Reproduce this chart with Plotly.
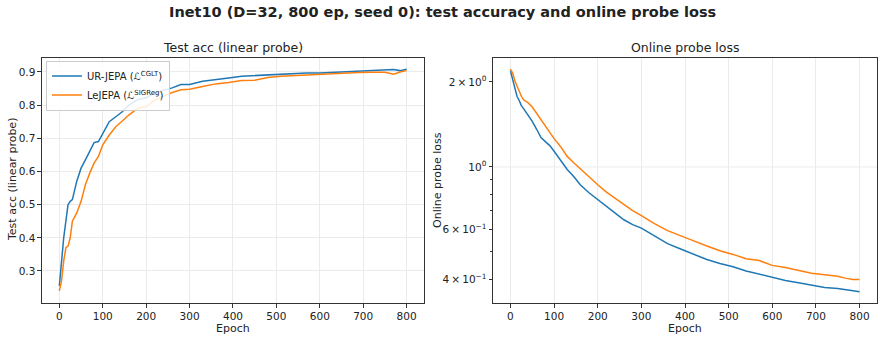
import plotly.graph_objects as go

epochs = [0, 5, 10, 15, 20, 25, 30, 40, 50, 60, 70, 80, 90, 100, 115, 130, 145, 160, 180, 200,
          220, 240, 260, 280, 300, 330, 360, 390, 420, 450, 480, 510, 540, 570, 600, 630, 660,
          690, 720, 750, 770, 785, 800]

acc_ur = [0.255, 0.33, 0.40, 0.45, 0.50, 0.51, 0.515, 0.57, 0.61, 0.635, 0.66, 0.687, 0.69, 0.715,
          0.75, 0.765, 0.78, 0.80, 0.816, 0.822, 0.837, 0.845, 0.852, 0.862, 0.862, 0.872, 0.878,
          0.882, 0.887, 0.889, 0.892, 0.895, 0.895, 0.897, 0.897, 0.899, 0.899, 0.903, 0.905,
          0.905, 0.907, 0.904, 0.908]
acc_le = [0.24, 0.27, 0.33, 0.37, 0.375, 0.40, 0.45, 0.475, 0.51, 0.56, 0.595, 0.625, 0.645, 0.68,
          0.71, 0.735, 0.752, 0.77, 0.79, 0.795, 0.816, 0.828, 0.838, 0.846, 0.848, 0.856, 0.864,
          0.868, 0.874, 0.875, 0.883, 0.887, 0.889, 0.892, 0.893, 0.895, 0.896, 0.898, 0.899,
          0.899, 0.893, 0.900, 0.904]

loss_ur = [2.19, 2.05, 1.88, 1.78, 1.72, 1.65, 1.61, 1.535, 1.45, 1.36, 1.27, 1.23, 1.19, 1.137,
           1.06, 0.98, 0.925, 0.865, 0.81, 0.765, 0.725, 0.686, 0.65, 0.625, 0.607, 0.57, 0.535,
           0.512, 0.49, 0.47, 0.455, 0.443, 0.428, 0.417, 0.405, 0.396, 0.389, 0.381, 0.374,
           0.371, 0.366, 0.364, 0.361]
loss_le = [2.22, 2.15, 2.02, 1.93, 1.85, 1.78, 1.73, 1.69, 1.63, 1.55, 1.46, 1.39, 1.32, 1.26,
           1.18, 1.09, 1.035, 0.985, 0.92, 0.865, 0.815, 0.775, 0.735, 0.70, 0.672, 0.63, 0.595,
           0.572, 0.547, 0.525, 0.505, 0.49, 0.473, 0.466, 0.448, 0.44, 0.43, 0.42, 0.415, 0.41,
           0.403, 0.399, 0.399]

names = ["UR-JEPA (ℒ<sup>CGLT</sup>)", "LeJEPA (ℒ<sup>SIGReg</sup>)"]
colors = ["#1f77b4", "#ff7f0e"]

x_ticks = [0, 100, 200, 300, 400, 500, 600, 700, 800]
acc_ticks = [0.3, 0.4, 0.5, 0.6, 0.7, 0.8, 0.9]
loss_ticks = [0.4, 0.6, 1.0, 2.0]
loss_ticktext = ["4\u2009×\u200910<sup>−1</sup>", "6\u2009×\u200910<sup>−1</sup>",
                 "10<sup>0</sup>", "2\u2009×\u200910<sup>0</sup>"]
loss_minor = [0.5, 0.7, 0.8, 0.9]

FONT = "DejaVu Sans"
fig = go.Figure()
for vals, nm, c in [(acc_ur, names[0], colors[0]), (acc_le, names[1], colors[1])]:
    fig.add_trace(go.Scatter(x=epochs, y=vals, mode="lines", name=nm,
                             line=dict(color=c, width=1.5), xaxis="x", yaxis="y"))
for vals, nm, c in [(loss_ur, names[0], colors[0]), (loss_le, names[1], colors[1])]:
    fig.add_trace(go.Scatter(x=epochs, y=vals, mode="lines", name=nm, showlegend=False,
                             line=dict(color=c, width=1.5), xaxis="x2", yaxis="y2"))

ax_common = dict(showline=True, mirror=True, linecolor="#333333", linewidth=1,
                 ticks="outside", ticklen=3.5, tickcolor="#333333", zeroline=False,
                 tickfont=dict(size=10.5, color="#222222", family=FONT),
                 gridcolor="#ebebeb", gridwidth=1)

D1 = [0.0475, 0.4796]
D2 = [0.5577, 0.9921]
fig.update_layout(
    width=884, height=340,
    margin=dict(l=0, r=0, t=0, b=0),
    plot_bgcolor="white", paper_bgcolor="white",
    font=dict(family=FONT, color="#222222", size=11),
    xaxis=dict(domain=D1, range=[-40, 840], tickvals=x_ticks, anchor="y", **ax_common),
    yaxis=dict(domain=[0.1088, 0.8294], range=[0.2035, 0.942], tickvals=acc_ticks, anchor="x",
               **ax_common),
    xaxis2=dict(domain=D2, range=[-40, 840], tickvals=x_ticks, anchor="y2", **ax_common),
    yaxis2=dict(domain=[0.1088, 0.8294], type="log", range=[-0.482, 0.386],
                tickvals=loss_ticks, ticktext=loss_ticktext, anchor="x2", showgrid=False,
                minor=dict(tickvals=loss_minor, ticks="outside", ticklen=2, tickcolor="#333333",
                           showgrid=False),
                **ax_common),
    legend=dict(x=0.052, y=0.822, xanchor="left", yanchor="top",
                bgcolor="rgba(255,255,255,0.85)", bordercolor="#cccccc", borderwidth=1,
                font=dict(size=10, family=FONT), tracegroupgap=0, itemwidth=30),
    shapes=[dict(type="line", xref="x2 domain", yref="y2", x0=0, x1=1, y0=1, y1=1,
                 line=dict(color="#ebebeb", width=1), layer="below")],
    annotations=[
        dict(text="<b>Inet10 (D=32, 800 ep, seed 0): test accuracy and online probe loss</b>",
             x=0.5, y=1 - 12 / 340, xref="paper", yref="paper", showarrow=False,
             xanchor="center", yanchor="middle", font=dict(size=14.5, family=FONT)),
        dict(text="Test acc (linear probe)", x=sum(D1) / 2, y=1 - 48 / 340,
             xref="paper", yref="paper", showarrow=False, xanchor="center", yanchor="middle",
             font=dict(size=12.5, family=FONT)),
        dict(text="Online probe loss", x=sum(D2) / 2, y=1 - 48 / 340,
             xref="paper", yref="paper", showarrow=False, xanchor="center", yanchor="middle",
             font=dict(size=12.5, family=FONT)),
        dict(text="Epoch", x=sum(D1) / 2, y=1 - 328 / 340, xref="paper", yref="paper",
             showarrow=False, xanchor="center", yanchor="middle", font=dict(size=11)),
        dict(text="Epoch", x=sum(D2) / 2, y=1 - 328 / 340, xref="paper", yref="paper",
             showarrow=False, xanchor="center", yanchor="middle", font=dict(size=11)),
        dict(text="Test acc (linear probe)", x=12 / 884, y=1 - 180 / 340, xref="paper",
             yref="paper", showarrow=False, textangle=-90, xanchor="center", yanchor="middle",
             font=dict(size=11)),
        dict(text="Online probe loss", x=437 / 884, y=1 - 180 / 340, xref="paper",
             yref="paper", showarrow=False, textangle=-90, xanchor="center", yanchor="middle",
             font=dict(size=11)),
    ],
)

fig.write_html("out.html")
